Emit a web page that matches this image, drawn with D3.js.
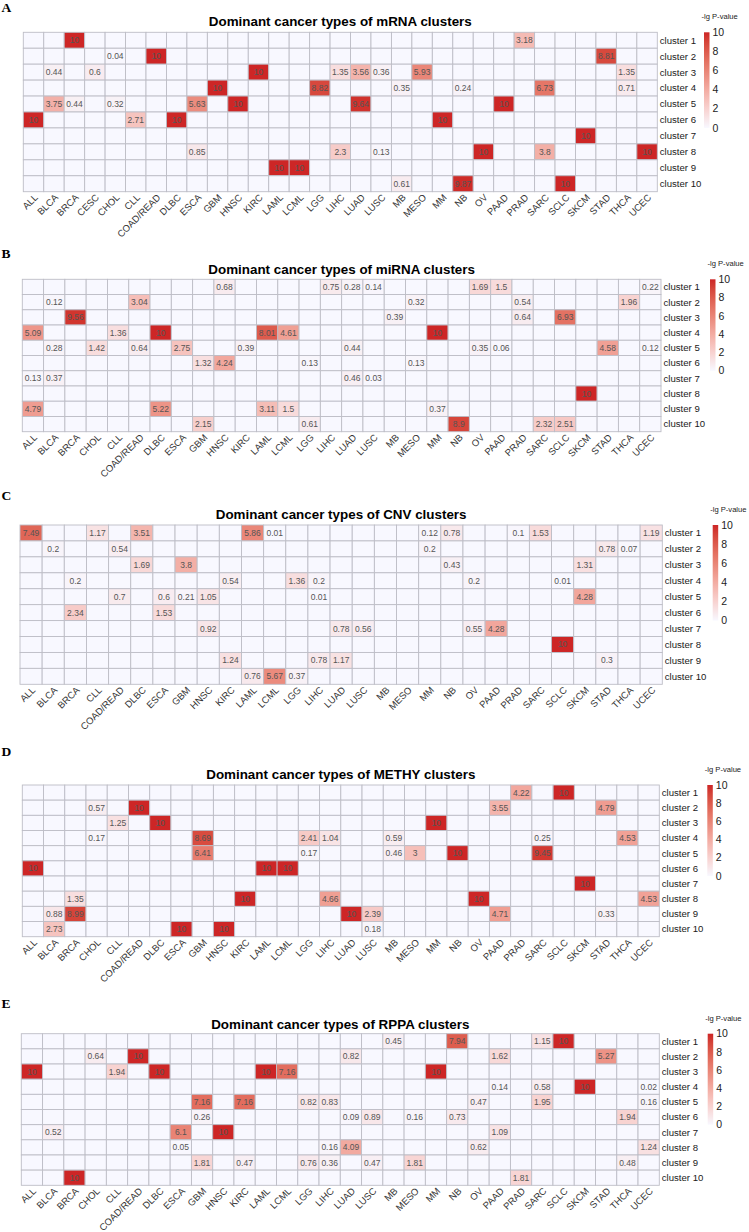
<!DOCTYPE html>
<html>
<head>
<meta charset="utf-8">
<script src="https://cdn.jsdelivr.net/npm/d3@7/dist/d3.min.js"></script>
<style>
  html, body { margin: 0; padding: 0; background: #fff; }
  svg { display: block; }
</style>
</head>
<body>
<svg id="chart" width="749" height="1232"></svg>
<script>
// ---------------- DATA ----------------
const clusters = ["cluster 1","cluster 2","cluster 3","cluster 4","cluster 5","cluster 6","cluster 7","cluster 8","cluster 9","cluster 10"];
const legendTicks = [0, 2, 4, 6, 8, 10];

const mrnaTitle = "Dominant cancer types of mRNA clusters";
const mrnaTypes = ["ALL","BLCA","BRCA","CESC","CHOL","CLL","COAD/READ","DLBC","ESCA","GBM","HNSC","KIRC","LAML","LCML","LGG","LIHC","LUAD","LUSC","MB","MESO","MM","NB","OV","PAAD","PRAD","SARC","SCLC","SKCM","STAD","THCA","UCEC"];
const mrnaValues = [
  [1,"BRCA",10],[1,"PRAD",3.18],
  [2,"CHOL",0.04],[2,"COAD/READ",10],[2,"STAD",8.81],
  [3,"BLCA",0.44],[3,"CESC",0.6],[3,"KIRC",10],[3,"LIHC",1.35],[3,"LUAD",3.56],[3,"LUSC",0.36],[3,"MESO",5.93],[3,"THCA",1.35],
  [4,"GBM",10],[4,"LGG",8.82],[4,"MB",0.35],[4,"NB",0.24],[4,"SARC",6.73],[4,"THCA",0.71],
  [5,"BLCA",3.75],[5,"BRCA",0.44],[5,"CHOL",0.32],[5,"ESCA",5.63],[5,"HNSC",10],[5,"LUAD",9.64],[5,"PAAD",10],
  [6,"ALL",10],[6,"CLL",2.71],[6,"DLBC",10],[6,"MM",10],
  [7,"SKCM",10],
  [8,"ESCA",0.85],[8,"LIHC",2.3],[8,"LUSC",0.13],[8,"OV",10],[8,"SARC",3.8],[8,"UCEC",10],
  [9,"LAML",10],[9,"LCML",10],
  [10,"MB",0.61],[10,"NB",9.87],[10,"SCLC",10]
];

const mirnaTitle = "Dominant cancer types of miRNA clusters";
const mirnaTypes = ["ALL","BLCA","BRCA","CHOL","CLL","COAD/READ","DLBC","ESCA","GBM","HNSC","KIRC","LAML","LCML","LGG","LIHC","LUAD","LUSC","MB","MESO","MM","NB","OV","PAAD","PRAD","SARC","SCLC","SKCM","STAD","THCA","UCEC"];
const mirnaValues = [
  [1,"HNSC",0.68],[1,"LIHC",0.75],[1,"LUAD",0.28],[1,"LUSC",0.14],[1,"OV",1.69],[1,"PAAD",1.5],[1,"UCEC",0.22],
  [2,"BLCA",0.12],[2,"COAD/READ",3.04],[2,"MESO",0.32],[2,"PRAD",0.54],[2,"THCA",1.96],
  [3,"BRCA",9.56],[3,"MB",0.39],[3,"PRAD",0.64],[3,"SCLC",6.93],
  [4,"ALL",5.09],[4,"CLL",1.36],[4,"DLBC",10],[4,"LAML",8.01],[4,"LCML",4.61],[4,"MM",10],
  [5,"BLCA",0.28],[5,"CHOL",1.42],[5,"COAD/READ",0.64],[5,"ESCA",2.75],[5,"KIRC",0.39],[5,"LUAD",0.44],[5,"OV",0.35],[5,"PAAD",0.06],[5,"STAD",4.58],[5,"UCEC",0.12],
  [6,"GBM",1.32],[6,"HNSC",4.24],[6,"LGG",0.13],[6,"MESO",0.13],
  [7,"ALL",0.13],[7,"BLCA",0.37],[7,"LUAD",0.46],[7,"LUSC",0.03],
  [8,"SKCM",10],
  [9,"ALL",4.79],[9,"DLBC",5.22],[9,"LAML",3.11],[9,"LCML",1.5],[9,"MM",0.37],
  [10,"GBM",2.15],[10,"LGG",0.61],[10,"NB",8.9],[10,"SARC",2.32],[10,"SCLC",2.51]
];

const cnvTitle = "Dominant cancer types of CNV clusters";
const cnvTypes = ["ALL","BLCA","BRCA","CLL","COAD/READ","DLBC","ESCA","GBM","HNSC","KIRC","LAML","LCML","LGG","LIHC","LUAD","LUSC","MB","MESO","MM","NB","OV","PAAD","PRAD","SARC","SCLC","SKCM","STAD","THCA","UCEC"];
const cnvValues = [
  [1,"ALL",7.49],[1,"CLL",1.17],[1,"DLBC",3.51],[1,"LAML",5.86],[1,"LCML",0.01],[1,"MM",0.12],[1,"NB",0.78],[1,"PRAD",0.1],[1,"SARC",1.53],[1,"UCEC",1.19],
  [2,"BLCA",0.2],[2,"COAD/READ",0.54],[2,"MM",0.2],[2,"STAD",0.78],[2,"THCA",0.07],
  [3,"DLBC",1.69],[3,"GBM",3.8],[3,"NB",0.43],[3,"SKCM",1.31],
  [4,"BRCA",0.2],[4,"KIRC",0.54],[4,"LGG",1.36],[4,"LIHC",0.2],[4,"OV",0.2],[4,"SCLC",0.01],
  [5,"COAD/READ",0.7],[5,"ESCA",0.6],[5,"GBM",0.21],[5,"HNSC",1.05],[5,"LIHC",0.01],[5,"SKCM",4.28],
  [6,"BRCA",2.34],[6,"ESCA",1.53],
  [7,"HNSC",0.92],[7,"LUAD",0.78],[7,"LUSC",0.56],[7,"OV",0.55],[7,"PAAD",4.28],
  [8,"SCLC",10],
  [9,"KIRC",1.24],[9,"LIHC",0.78],[9,"LUAD",1.17],[9,"STAD",0.3],
  [10,"LAML",0.76],[10,"LCML",5.67],[10,"LGG",0.37]
];

const methyTitle = "Dominant cancer types of METHY clusters";
const methyTypes = ["ALL","BLCA","BRCA","CHOL","CLL","COAD/READ","DLBC","ESCA","GBM","HNSC","KIRC","LAML","LCML","LGG","LIHC","LUAD","LUSC","MB","MESO","MM","NB","OV","PAAD","PRAD","SARC","SCLC","SKCM","STAD","THCA","UCEC"];
const methyValues = [
  [1,"PRAD",4.22],[1,"SCLC",10],
  [2,"CHOL",0.57],[2,"COAD/READ",10],[2,"PAAD",3.55],[2,"STAD",4.79],
  [3,"CLL",1.25],[3,"DLBC",10],[3,"MM",10],
  [4,"CHOL",0.17],[4,"GBM",8.69],[4,"LGG",2.41],[4,"LIHC",1.04],[4,"MB",0.59],[4,"SARC",0.25],[4,"THCA",4.53],
  [5,"GBM",6.41],[5,"LGG",0.17],[5,"MB",0.46],[5,"MESO",3],[5,"NB",10],[5,"SARC",9.45],
  [6,"ALL",10],[6,"LAML",10],[6,"LCML",10],
  [7,"SKCM",10],
  [8,"BRCA",1.35],[8,"KIRC",10],[8,"LIHC",4.66],[8,"OV",10],[8,"UCEC",4.53],
  [9,"BLCA",0.88],[9,"BRCA",8.99],[9,"LUAD",10],[9,"LUSC",2.39],[9,"PAAD",4.71],[9,"STAD",0.33],
  [10,"BLCA",2.73],[10,"ESCA",10],[10,"HNSC",10],[10,"LUSC",0.18]
];

const rppaTitle = "Dominant cancer types of RPPA clusters";
const rppaTypes = ["ALL","BLCA","BRCA","CHOL","CLL","COAD/READ","DLBC","ESCA","GBM","HNSC","KIRC","LAML","LCML","LGG","LIHC","LUAD","LUSC","MB","MESO","MM","NB","OV","PAAD","PRAD","SARC","SCLC","SKCM","STAD","THCA","UCEC"];
const rppaValues = [
  [1,"MB",0.45],[1,"NB",7.94],[1,"SARC",1.15],[1,"SCLC",10],
  [2,"CHOL",0.64],[2,"COAD/READ",10],[2,"LUAD",0.82],[2,"PAAD",1.62],[2,"STAD",5.27],
  [3,"ALL",10],[3,"CLL",1.94],[3,"DLBC",10],[3,"LAML",10],[3,"LCML",7.16],[3,"MM",10],
  [4,"PAAD",0.14],[4,"SARC",0.58],[4,"SKCM",10],[4,"UCEC",0.02],
  [5,"GBM",7.16],[5,"KIRC",7.16],[5,"LGG",0.82],[5,"LIHC",0.83],[5,"OV",0.47],[5,"SARC",1.95],[5,"UCEC",0.16],
  [6,"GBM",0.26],[6,"LUAD",0.09],[6,"LUSC",0.89],[6,"MESO",0.16],[6,"NB",0.73],[6,"THCA",1.94],
  [7,"BLCA",0.52],[7,"ESCA",6.1],[7,"HNSC",10],[7,"PAAD",1.09],
  [8,"ESCA",0.05],[8,"LIHC",0.16],[8,"LUAD",4.09],[8,"OV",0.62],[8,"UCEC",1.24],
  [9,"GBM",1.81],[9,"KIRC",0.47],[9,"LGG",0.76],[9,"LIHC",0.36],[9,"LUSC",0.47],[9,"MESO",1.81],[9,"THCA",0.48],
  [10,"BRCA",10],[10,"PRAD",1.81]
];

// ---------------- LAYOUT (positions only) ----------------
const panels = [
  {letter:"A", title:mrnaTitle,  types:mrnaTypes,  values:mrnaValues,  x0:23.3, x1:657.3, y0:32.3,  y1:191.7,  letterY:11.7,  titleY:26,     barX:704},
  {letter:"B", title:mirnaTitle, types:mirnaTypes, values:mirnaValues, x0:22.3, x1:661,   y0:279.3, y1:431.7,  letterY:258.3, titleY:274.3,  barX:710},
  {letter:"C", title:cnvTitle,   types:cnvTypes,   values:cnvValues,   x0:20,   x1:662.3, y0:525,   y1:684.3,  letterY:499.5, titleY:519,    barX:712.7},
  {letter:"D", title:methyTitle, types:methyTypes, values:methyValues, x0:22.3, x1:659.3, y0:785,   y1:936.7,  letterY:755.7, titleY:779.3,  barX:707.3},
  {letter:"E", title:rppaTitle,  types:rppaTypes,  values:rppaValues,  x0:21.3, x1:659.3, y0:1033.7,y1:1185.3, letterY:1008,  titleY:1028.7, barX:707.7}
];

const LOW = "#F8F8FF", HIGH = "#CD2626";
const color = d3.scaleLinear().domain([0, 10]).range([LOW, HIGH]).interpolate(d3.interpolateLab).clamp(true);
const FONT = "'Liberation Sans', Arial, sans-serif";

const svg = d3.select("#chart");
const defs = svg.append("defs");
const grad = defs.append("linearGradient").attr("id", "lgGrad")
  .attr("x1", 0).attr("y1", 1).attr("x2", 0).attr("y2", 0);
d3.range(0, 11).forEach(v => {
  grad.append("stop").attr("offset", v / 10).attr("stop-color", color(v));
});

panels.forEach(p => {
  const g = svg.append("g");
  const x = d3.scaleBand().domain(p.types).range([p.x0, p.x1]).padding(0);
  const y = d3.scaleBand().domain(clusters).range([p.y0, p.y1]).padding(0);

  // letter
  g.append("text").attr("x", 1.5).attr("y", p.letterY)
    .attr("font-family", "'Liberation Serif', 'Times New Roman', serif")
    .attr("font-weight", "bold").attr("font-size", 13.5).attr("fill", "#000")
    .text(p.letter);

  // title
  g.append("text").attr("x", (p.x0 + p.x1) / 2).attr("y", p.titleY)
    .attr("text-anchor", "middle").attr("font-family", FONT)
    .attr("font-weight", "bold").attr("font-size", 13.4).attr("fill", "#000")
    .text(p.title);

  // lookup
  const lookup = new Map(p.values.map(d => [clusters[d[0] - 1] + "|" + d[1], d[2]]));
  const cells = [];
  clusters.forEach(c => p.types.forEach(t => {
    const k = c + "|" + t;
    cells.push({c, t, v: lookup.has(k) ? lookup.get(k) : null});
  }));

  g.append("g").selectAll("rect").data(cells).join("rect")
    .attr("x", d => x(d.t)).attr("y", d => y(d.c))
    .attr("width", x.bandwidth()).attr("height", y.bandwidth())
    .attr("fill", d => d.v === null ? LOW : color(d.v))
    .attr("stroke", "#BDBDC6").attr("stroke-width", 0.9);

  g.append("g").selectAll("text").data(cells.filter(d => d.v !== null)).join("text")
    .attr("x", d => x(d.t) + x.bandwidth() / 2)
    .attr("y", d => y(d.c) + y.bandwidth() / 2)
    .attr("dy", "0.35em").attr("text-anchor", "middle")
    .attr("font-family", FONT).attr("font-size", 8.5).attr("fill", "#555")
    .text(d => String(d.v));

  // row labels
  g.append("g").selectAll("text").data(clusters).join("text")
    .attr("x", p.x1 + 2.5).attr("y", d => y(d) + y.bandwidth() / 2)
    .attr("dy", "0.35em").attr("font-family", FONT).attr("font-size", 9.6).attr("fill", "#1a1a1a")
    .text(d => d);

  // column labels
  g.append("g").selectAll("text").data(p.types).join("text")
    .attr("transform", d => `translate(${x(d) + x.bandwidth() / 2 + 2.5},${p.y1 + 4}) rotate(-45)`)
    .attr("text-anchor", "end").attr("dy", "0.35em")
    .attr("font-family", FONT).attr("font-size", 9.5).attr("fill", "#333")
    .text(d => d);

  // legend
  const barH = (p.y1 - p.y0) * 0.6;
  const ly = d3.scaleLinear().domain([0, 10]).range([p.y0 + barH, p.y0]);
  g.append("text").attr("x", p.barX - 2.5).attr("y", p.y0 - 13)
    .attr("font-family", FONT).attr("font-size", 7.6).attr("fill", "#222")
    .text("-lg P-value");
  g.append("rect").attr("x", p.barX).attr("y", p.y0).attr("width", 5.5).attr("height", barH)
    .attr("fill", "url(#lgGrad)");
  g.append("g").selectAll("text").data(legendTicks).join("text")
    .attr("x", p.barX + 8.5).attr("y", d => ly(d)).attr("dy", "0.35em")
    .attr("font-family", FONT).attr("font-size", 10.5).attr("fill", "#222")
    .text(d => d);
});
</script>
</body>
</html>
